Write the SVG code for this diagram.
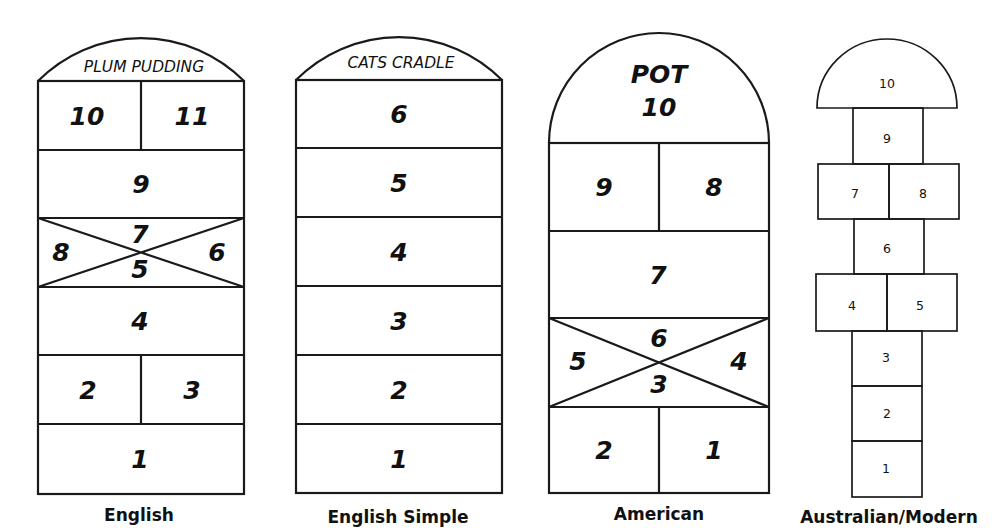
<svg xmlns="http://www.w3.org/2000/svg" width="1000" height="532" viewBox="0 0 1000 532">
<style>
  .ln { fill: none; stroke: #1a1a1a; stroke-width: 2.2; stroke-linejoin: miter; }
  .ln2 { fill: none; stroke: #1a1a1a; stroke-width: 1.7; }
  .num { font-family: "DejaVu Sans", sans-serif; font-weight: bold; font-style: italic; font-size: 25px; fill: #111; text-anchor: middle; }
  .cap { font-family: "DejaVu Sans", sans-serif; font-style: italic; font-size: 15.5px; fill: #111; text-anchor: middle; }
  .sm { font-family: "DejaVu Sans", sans-serif; font-size: 12.5px; fill: #111; text-anchor: middle; }
  .lbl { font-family: "DejaVu Sans", sans-serif; font-weight: bold; font-size: 17px; fill: #111; text-anchor: middle; }
</style>
<rect width="1000" height="532" fill="#ffffff"/>

<g id="english">
  <path class="ln" d="M38,81 A145,145 0 0 1 244,81"/>
  <rect class="ln" x="38" y="81" width="206" height="413"/>
  <path class="ln" d="M38,150 H244 M38,218 H244 M38,287 H244 M38,355 H244 M38,424 H244 M141,81 V150 M141,355 V424"/>
  <path class="ln" d="M38,218 L244,287 M38,287 L244,218"/>
  <text class="cap" x="144" y="72">PLUM PUDDING</text>
  <text class="num" x="87" y="125">10</text>
  <text class="num" x="192" y="125">11</text>
  <text class="num" x="141" y="193">9</text>
  <text class="num" x="140" y="243">7</text>
  <text class="num" x="61" y="261">8</text>
  <text class="num" x="217" y="261">6</text>
  <text class="num" x="140" y="278">5</text>
  <text class="num" x="140" y="330">4</text>
  <text class="num" x="88" y="399">2</text>
  <text class="num" x="192" y="399">3</text>
  <text class="num" x="140" y="468">1</text>
  <text class="lbl" x="139" y="521">English</text>
</g>

<g id="english-simple">
  <path class="ln" d="M296,80 A145,145 0 0 1 502,80"/>
  <rect class="ln" x="296" y="80" width="206" height="413"/>
  <path class="ln" d="M296,148 H502 M296,217 H502 M296,286 H502 M296,355 H502 M296,424 H502"/>
  <text class="cap" x="401" y="68">CATS CRADLE</text>
  <text class="num" x="399" y="123">6</text>
  <text class="num" x="399" y="192">5</text>
  <text class="num" x="399" y="261">4</text>
  <text class="num" x="399" y="330">3</text>
  <text class="num" x="399" y="399">2</text>
  <text class="num" x="399" y="468">1</text>
  <text class="lbl" x="398" y="523">English Simple</text>
</g>

<g id="american">
  <path class="ln" d="M549,143 A110,110 0 0 1 769,143"/>
  <rect class="ln" x="549" y="143" width="220" height="350"/>
  <path class="ln" d="M549,231 H769 M549,318 H769 M549,407 H769 M659,143 V231 M659,407 V493"/>
  <path class="ln" d="M549,318 L769,407 M549,407 L769,318"/>
  <text class="num" x="659" y="83">POT</text>
  <text class="num" x="659" y="116">10</text>
  <text class="num" x="604" y="196">9</text>
  <text class="num" x="714" y="196">8</text>
  <text class="num" x="658" y="284">7</text>
  <text class="num" x="659" y="347">6</text>
  <text class="num" x="578" y="370">5</text>
  <text class="num" x="739" y="370">4</text>
  <text class="num" x="659" y="393">3</text>
  <text class="num" x="604" y="459">2</text>
  <text class="num" x="714" y="459">1</text>
  <text class="lbl" x="659" y="520">American</text>
</g>

<g id="australian">
  <path class="ln2" d="M817,108 A70,69 0 0 1 957,108 Z"/>
  <rect class="ln2" x="853" y="108" width="70" height="56"/>
  <rect class="ln2" x="818" y="164" width="71" height="55"/>
  <rect class="ln2" x="889" y="164" width="70" height="55"/>
  <rect class="ln2" x="854" y="219" width="70" height="55"/>
  <rect class="ln2" x="816" y="274" width="71" height="57"/>
  <rect class="ln2" x="887" y="274" width="70" height="57"/>
  <rect class="ln2" x="852" y="331" width="70" height="55"/>
  <rect class="ln2" x="852" y="386" width="70" height="55"/>
  <rect class="ln2" x="852" y="441" width="70" height="56"/>
  <text class="sm" x="887" y="88">10</text>
  <text class="sm" x="887" y="143">9</text>
  <text class="sm" x="855" y="198">7</text>
  <text class="sm" x="923" y="198">8</text>
  <text class="sm" x="887" y="253">6</text>
  <text class="sm" x="852" y="310">4</text>
  <text class="sm" x="920" y="310">5</text>
  <text class="sm" x="886" y="362">3</text>
  <text class="sm" x="887" y="418">2</text>
  <text class="sm" x="886" y="473">1</text>
  <text class="lbl" x="889" y="523">Australian/Modern</text>
</g>
</svg>
